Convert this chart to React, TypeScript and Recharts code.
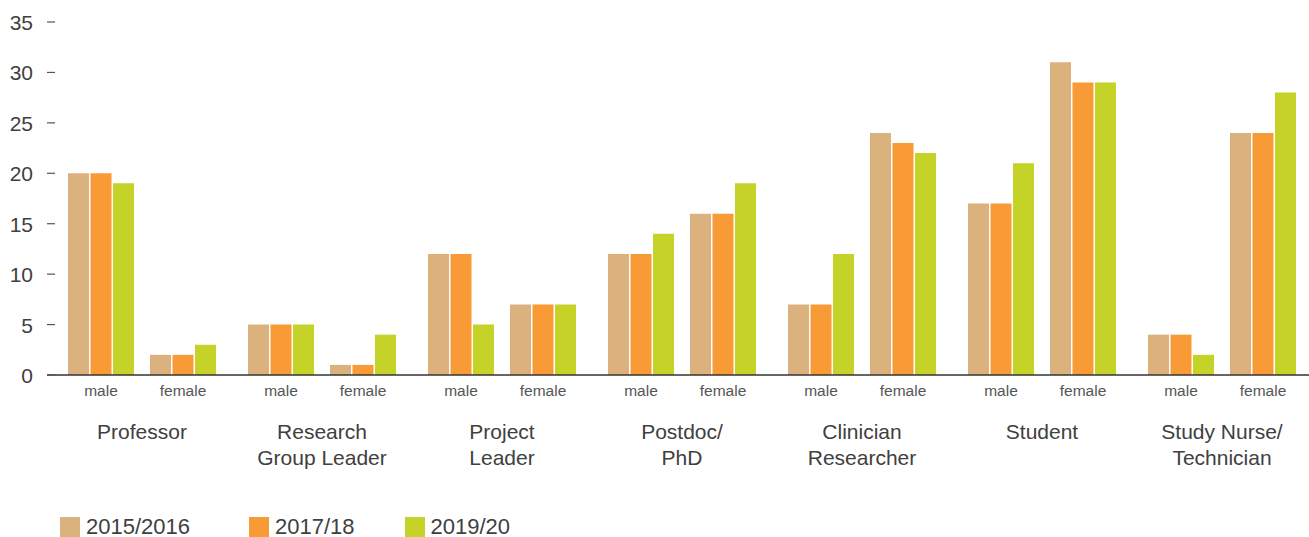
import React from 'react';
import { BarChart, Bar, XAxis, YAxis } from 'recharts';

const jobGroups = [
  'Professor',
  'Research Group Leader',
  'Project Leader',
  'Postdoc/ PhD',
  'Clinician Researcher',
  'Student',
  'Study Nurse/ Technician',
];
const groupLines = [
  ['Professor'],
  ['Research', 'Group Leader'],
  ['Project', 'Leader'],
  ['Postdoc/', 'PhD'],
  ['Clinician', 'Researcher'],
  ['Student'],
  ['Study Nurse/', 'Technician'],
];
const genders = ['male', 'female'];
const years = ['2015/2016', '2017/18', '2019/20'];
const yTicks = [0, 5, 10, 15, 20, 25, 30, 35];

const male2015 = [20, 5, 12, 12, 7, 17, 4];
const male2017 = [20, 5, 12, 12, 7, 17, 4];
const male2019 = [19, 5, 5, 14, 12, 21, 2];
const female2015 = [2, 1, 7, 16, 24, 31, 24];
const female2017 = [2, 1, 7, 16, 23, 29, 24];
const female2019 = [3, 4, 7, 19, 22, 29, 28];

const colors = ['#DBB27E', '#F89A35', '#C5D227'];

const data = jobGroups.map((g, i) => ({
  group: g,
  m0: male2015[i],
  m1: male2017[i],
  m2: male2019[i],
  f0: female2015[i],
  f1: female2017[i],
  f2: female2019[i],
}));

const FONT = '"Liberation Sans", Arial, Helvetica, sans-serif';

const XTick = (props: any) => {
  const { x, y, index } = props;
  const lines = groupLines[index] || [];
  return (
    <g>
      <text x={x - 41} y={y + 21} textAnchor="middle" fontSize={15.5} fill="#555" fontFamily={FONT}>
        {genders[0]}
      </text>
      <text x={x + 41} y={y + 21} textAnchor="middle" fontSize={15.5} fill="#555" fontFamily={FONT}>
        {genders[1]}
      </text>
      {lines.map((l: string, k: number) => (
        <text key={k} x={x} y={y + 64 + k * 25.5} textAnchor="middle" fontSize={21} fill="#404040" fontFamily={FONT}>
          {l}
        </text>
      ))}
    </g>
  );
};

const YTick = (props: any) => {
  const { x, y, payload } = props;
  return (
    <g>
      <line x1={x} x2={x + 8} y1={y} y2={y} stroke="#555" strokeWidth={1.2} />
      <text x={x - 14} y={y + 8} textAnchor="end" fontSize={21} fill="#404040" fontFamily={FONT}>
        {payload.value}
      </text>
    </g>
  );
};

export default function App() {
  return (
    <div style={{ position: 'absolute', left: 0, top: 0, width: 1309, height: 537, background: '#fff' }}>
      <BarChart
        width={1309}
        height={537}
        data={data}
        margin={{ top: 22, right: -3, bottom: 0, left: 0 }}
        barGap={1.5}
      >
        <XAxis
          dataKey="group"
          height={162}
          interval={0}
          tickLine={false}
          tickSize={0}
          tickMargin={0}
          axisLine={{ stroke: '#333', strokeWidth: 1.5 }}
          padding={{ left: 5, right: 0 }}
          tick={<XTick />}
        />
        <YAxis
          width={47}
          domain={[0, 35]}
          ticks={yTicks}
          interval={0}
          axisLine={false}
          tickLine={false}
          tickSize={0}
          tickMargin={0}
          tick={<YTick />}
        />
        <Bar dataKey="m0" fill={colors[0]} barSize={21} isAnimationActive={false} />
        <Bar dataKey="m1" fill={colors[1]} barSize={21} isAnimationActive={false} />
        <Bar dataKey="m2" fill={colors[2]} barSize={21} isAnimationActive={false} />
        <Bar dataKey="spacer" fill="none" barSize={13} isAnimationActive={false} />
        <Bar dataKey="f0" fill={colors[0]} barSize={21} isAnimationActive={false} />
        <Bar dataKey="f1" fill={colors[1]} barSize={21} isAnimationActive={false} />
        <Bar dataKey="f2" fill={colors[2]} barSize={21} isAnimationActive={false} />
      </BarChart>
      <div
        style={{
          position: 'absolute',
          left: 60,
          top: 517,
          height: 20,
          display: 'flex',
          alignItems: 'center',
          fontFamily: FONT,
        }}
      >
        {years.map((yr, i) => (
          <div key={yr} style={{ display: 'flex', alignItems: 'center', marginRight: i === 0 ? 59 : 50 }}>
            <div style={{ width: 20, height: 20, background: colors[i], marginRight: 6 }} />
            <span style={{ fontSize: 22, color: '#404040', lineHeight: '20px', whiteSpace: 'nowrap' }}>{yr}</span>
          </div>
        ))}
      </div>
    </div>
  );
}
